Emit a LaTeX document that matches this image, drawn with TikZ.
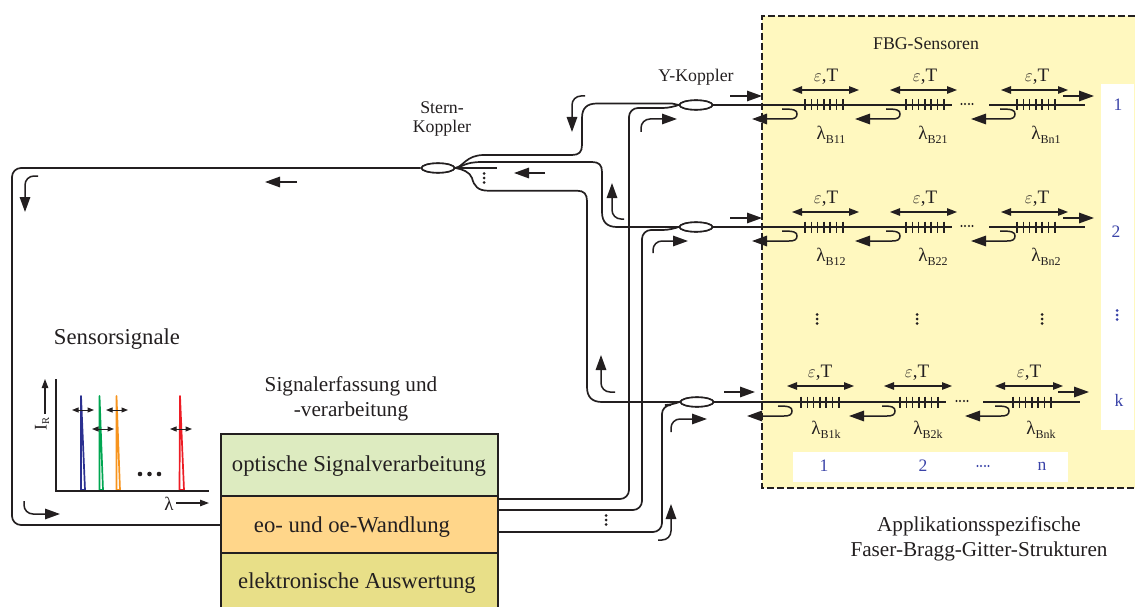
\documentclass[tikz,border=0pt]{standalone}
\usepackage{fontspec}
\setmainfont{Liberation Serif}
\usetikzlibrary{arrows.meta,shapes.geometric}
\definecolor{panel}{HTML}{FFF8BF}
\definecolor{ink}{HTML}{231F20}
\definecolor{numblue}{HTML}{3A43A8}
\definecolor{boxgreen}{HTML}{DDEBC0}
\definecolor{boxorange}{HTML}{FFD68A}
\definecolor{boxolive}{HTML}{E8DF88}
\definecolor{pkblue}{HTML}{2B3090}
\definecolor{pkgreen}{HTML}{00A651}
\definecolor{pkorange}{HTML}{F7941D}
\definecolor{pkred}{HTML}{ED1C24}
\tikzset{
 fibre/.style={draw=ink,line width=1.7pt,rounded corners=9pt},
 sig/.style={draw=ink,line width=1.5pt,-{Triangle[length=15pt,width=10.5pt]},rounded corners=9pt},
 dbl/.style={draw=ink,line width=1.3pt,{Triangle[length=10pt,width=7.5pt]}-{Triangle[length=10pt,width=7.5pt]}},
 tiny dbl/.style={draw=ink,line width=1pt,{Triangle[length=6.5pt,width=5pt]}-{Triangle[length=6.5pt,width=5pt]}},
 coupler/.style={ellipse,draw=ink,line width=1.6pt,fill=white,minimum width=33pt,minimum height=9.5pt,inner sep=0pt},
 txt/.style={inner sep=0pt,text=ink,yshift=-1.5pt,font=\fontsize{21.2}{24}\selectfont},
 boxtxt/.style={inner sep=0pt,text=ink,yshift=-2pt,font=\fontsize{22.7}{26}\selectfont},
 smalltxt/.style={inner sep=0pt,text=ink,yshift=-1pt,font=\fontsize{17.8}{20}\selectfont},
 labtxt/.style={inner sep=0pt,text=ink,font=\fontsize{19}{22}\selectfont},
 numtxt/.style={inner sep=0pt,text=numblue,font=\fontsize{17.5}{20}\selectfont},
 stackbox/.style={draw=ink,line width=1.7pt,minimum width=277pt,anchor=north west,inner sep=0pt},
 peak/.style={line width=1.7pt,fill=white,line join=round},
}
\newcommand{\vdotsat}[3]{\fill[#3] (#1,#2-4.5) circle (1.5pt) (#1,#2) circle (1.5pt) (#1,#2+4.5) circle (1.5pt);}
\newcommand{\hdotsat}[3]{\fill[#3] (#1-5.5,#2) circle (1.1pt) (#1-2,#2) circle (1.1pt) (#1+2,#2) circle (1.1pt) (#1+5.5,#2) circle (1.1pt);}
\newcommand{\grating}[2]{\foreach \k in {0,...,6}{\draw[ink,line width=1.6pt] (#1+\k*6.3,#2-5.5) -- (#1+\k*6.3,#2+5.5);}}
\newcommand{\hook}[4]{\draw[sig,rounded corners=0pt] (#1,#2+4) .. controls (#3-3,#2+4) and (#3,#2+5) .. (#3,#2+9) .. controls (#3,#2+13) and (#3-3,#2+14) .. (#3-8,#2+14) -- (#4,#2+14);}
\newcommand{\lamlabel}[4]{\node[labtxt] (#1) at (#2,#3) {λ\raisebox{-3.5pt}{\fontsize{12}{14}\selectfont #4}};}
\begin{document}
\begin{tikzpicture}[x=1pt,y=-1pt]
\useasboundingbox (0,0) rectangle (1135,607);
% panel
\fill[panel] (762,16) rectangle (1135,488);
\fill[white] (1101,84) rectangle (1133.5,430);
\fill[white] (793,452) rectangle (1068,482);
% stack of boxes
\node[stackbox,fill=boxgreen,minimum height=62pt] (bopt) at (220,433) {};
\node[stackbox,fill=boxorange,minimum height=57pt] (beo) at (220,495) {};
\node[stackbox,fill=boxolive,minimum height=60pt] (bel) at (220,552) {};
\node[boxtxt] (topt) at (359,464) {optische Signalverarbeitung};
\node[boxtxt] (teo) at (352,525) {eo- und oe-Wandlung};
\node[boxtxt] (tel) at (357,581) {elektronische Auswertung};
% fibres
\node[coupler] (sk) at (438,168) {};
\node[coupler] (y1) at (696,105) {};
\node[coupler] (y2) at (696,227) {};
\node[coupler] (y3) at (697,402) {};
\coordinate (bL) at (220,525);
\coordinate (b1) at (497,499);
\coordinate (b2) at (497,510);
\coordinate (b3) at (497,532);
\draw[fibre] (sk.west) -- (12,168) -- (12,525) -- (bL);
\draw[fibre,rounded corners=0pt] (sk.east) .. controls (463,167) and (466,155) .. (484,155) -- (572,155)
  .. controls (579,155) and (582,152) .. (582,145) -- (582,118) .. controls (582,108) and (587,103.5) .. (597,103.5) -- (672,103.5) -- (y1.west);
\draw[fibre,rounded corners=0pt] (sk.east) .. controls (463,167) and (464,162) .. (482,162) -- (592,162)
  .. controls (599,162) and (602,165) .. (602,172) -- (602,212) .. controls (602,222) and (607,227) .. (617,227) -- (y2.west);
\coordinate (stub) at (497,168);
\draw[fibre] (sk.east) -- (stub);
\draw[fibre,rounded corners=0pt] (sk.east) .. controls (462,169) and (470,172) .. (472,178) .. controls (474,186) and (478,190.7) .. (488,190.7) -- (577,190.7)
  .. controls (584,190.7) and (587,194) .. (587,201) -- (587,387) .. controls (587,397) and (592,402) .. (602,402) -- (y3.west);
\draw[fibre] (b1) -- (629,499) -- (629,108) -- (672,108) -- (y1.west);
\draw[fibre] (b2) -- (642,510) -- (642,230) -- (672,230) -- (y2.west);
\draw[fibre] (b3) -- (662,532) -- (662,405) -- (674,405) -- (y3.west);
\node[coupler] (skt) at (sk) {};
\node[coupler] (y1t) at (y1) {};
\node[coupler] (y2t) at (y2) {};
\node[coupler] (y3t) at (y3) {};
% sensor lines
\foreach \nm/\yy in {y1/105,y2/227}{
  \coordinate (\nm a) at (730,\yy);
  \coordinate (\nm b) at (952,\yy);
  \coordinate (\nm c) at (989,\yy);
  \coordinate (\nm d) at (1085,\yy);
  \draw[ink,line width=2.6pt] (\nm.east) -- (\nm a);
  \draw[ink,line width=1.7pt] (\nm a) -- (\nm b);
  \draw[ink,line width=1.7pt] (\nm c) -- (\nm d);
  \grating{805}{\yy}\grating{906}{\yy}\grating{1017}{\yy}
  \draw[dbl] (792,\yy-15) -- (859,\yy-15);
  \draw[dbl] (890,\yy-15) -- (957,\yy-15);
  \draw[dbl] (1001,\yy-15) -- (1068,\yy-15);
  \node[labtxt] (\nm e1) at (826,\yy-28) {$\varepsilon$,T};
  \node[labtxt] (\nm e2) at (925,\yy-28) {$\varepsilon$,T};
  \node[labtxt] (\nm e3) at (1037,\yy-28) {$\varepsilon$,T};
  \hook{782}{\yy}{797}{752}
  \hook{886}{\yy}{900}{855}
  \hook{1000}{\yy}{1015}{971}
  \draw[sig] (730,\yy-9) -- (762,\yy-9);
  \draw[sig] (1063,\yy-9) -- (1094,\yy-9);
  \hdotsat{967}{\yy-1}{ink}
}
\coordinate (y3a) at (724,402);
\coordinate (y3b) at (946,402);
\coordinate (y3c) at (983,402);
\coordinate (y3d) at (1080,402);
\draw[ink,line width=2.6pt] (y3.east) -- (y3a);
\draw[ink,line width=1.7pt] (y3a) -- (y3b);
\draw[ink,line width=1.7pt] (y3c) -- (y3d);
\grating{801}{402}\grating{900}{402}\grating{1013}{402}
\draw[dbl] (787,386) -- (854,386);
\draw[dbl] (884,386) -- (952,386);
\draw[dbl] (995,386) -- (1063,386);
\node[labtxt] (y3e1) at (820,373) {$\varepsilon$,T};
\node[labtxt] (y3e2) at (917,373) {$\varepsilon$,T};
\node[labtxt] (y3e3) at (1029,373) {$\varepsilon$,T};
\hook{778}{402}{792}{747}
\hook{882}{402}{895}{849}
\hook{995}{402}{1009}{965}
\draw[sig] (724,392) -- (755,392);
\draw[sig] (1058,392) -- (1089,392);
\hdotsat{962}{401}{ink}
% lambda labels
\lamlabel{lama}{831}{135}{B11}
\lamlabel{lamb}{933}{135}{B21}
\lamlabel{lamc}{1046}{135}{Bn1}
\lamlabel{lamd}{831}{257}{B12}
\lamlabel{lame}{933}{257}{B22}
\lamlabel{lamf}{1046}{257}{Bn2}
\lamlabel{lamg}{826}{430}{B1k}
\lamlabel{lamh}{928}{430}{B2k}
\lamlabel{lami}{1041}{430}{Bnk}
% panel border
\draw[ink,line width=1.3pt,dash pattern=on 7pt off 3pt] (1135,16) -- (762,16) -- (762,488) -- (1135,488);
% signal arrows, fibre side
\draw[sig] (585,96) -- (572,96) -- (572,132);
\draw[sig] (624,219) -- (612,219) -- (612,183);
\draw[sig] (615,392) -- (601,392) -- (601,355);
\draw[sig] (641,132) -- (641,119) -- (677,119);
\draw[sig] (653,253) -- (653,241) -- (688,241);
\draw[sig] (671,432) -- (671,419) -- (707,419);
\draw[sig] (658,540) -- (671,540) -- (671,504);
\draw[sig] (545,173) -- (514,173);
\draw[sig] (297,182) -- (265,182);
\draw[sig] (38,176) -- (25,176) -- (25,212);
\draw[sig] (24,501) -- (24,514) -- (60,514);
\vdotsat{484}{178}{ink}
\vdotsat{606}{520}{ink}
\vdotsat{817}{319}{ink}
\vdotsat{917}{319}{ink}
\vdotsat{1042}{319}{ink}
\vdotsat{1117}{315}{numblue}
% chart
\draw[peak,draw=pkblue] (81,396) -- (81,490) -- (85,490) -- cycle;
\draw[peak,draw=pkgreen] (99.5,396) -- (99.5,490) -- (103,490) -- cycle;
\draw[peak,draw=pkorange] (116.5,396) -- (116.5,490) -- (120,490) -- cycle;
\draw[peak,draw=pkred] (180,396) -- (179.5,490) -- (184,490) -- cycle;
\draw[ink,line width=1.7pt] (56,379) -- (56,491) -- (209,491);
\draw[tiny dbl] (72,410) -- (94,410);
\draw[tiny dbl] (92,429) -- (114,429);
\draw[tiny dbl] (106,410) -- (128,410);
\draw[tiny dbl] (170,429) -- (192,429);
\fill[ink] (140,474) circle (2.3pt) (149.5,474) circle (2.3pt) (159,474) circle (2.3pt);
\node[labtxt] (lamaxis) at (169,504) {λ};
\coordinate (lamtip) at (209,503);
\draw[ink,line width=1.2pt,-{Triangle[length=9pt,width=6.5pt]}] (176,503) -- (lamtip);
\node[smalltxt,rotate=90] (ir) at (42,423) {I\raisebox{-2.5pt}{\fontsize{10.5}{12}\selectfont R}};
\coordinate (irtip) at (45,379);
\draw[ink,line width=1.2pt,-{Triangle[length=9pt,width=6.5pt]}] (45,414) -- (irtip);
% texts
\node[boxtxt] (tsens) at (117,337) {Sensorsignale};
\node[txt] (tsig1) at (351,385) {Signalerfassung und};
\node[txt] (tsig2) at (351,410) {-verarbeitung};
\node[txt] (tapp1) at (979,525) {Applikationsspezifische};
\node[txt] (tapp2) at (979,550) {Faser-Bragg-Gitter-Strukturen};
\node[smalltxt] (tyk) at (696,76) {Y-Koppler};
\node[smalltxt] (ts1) at (442,107) {Stern-};
\node[smalltxt] (ts2) at (442,127) {Koppler};
\node[smalltxt] (tfbg) at (926,43) {FBG-Sensoren};
% blue numbers
\node[numtxt] (n1) at (1118,105) {1};
\node[numtxt] (n2) at (1116,232) {2};
\node[numtxt] (nk) at (1119,400) {k};
\node[numtxt] (m1) at (824,466) {1};
\node[numtxt] (m2) at (923,466) {2};
\hdotsat{983}{466}{numblue}
\node[numtxt] (mn) at (1042,466) {n};
\end{tikzpicture}
\end{document}
